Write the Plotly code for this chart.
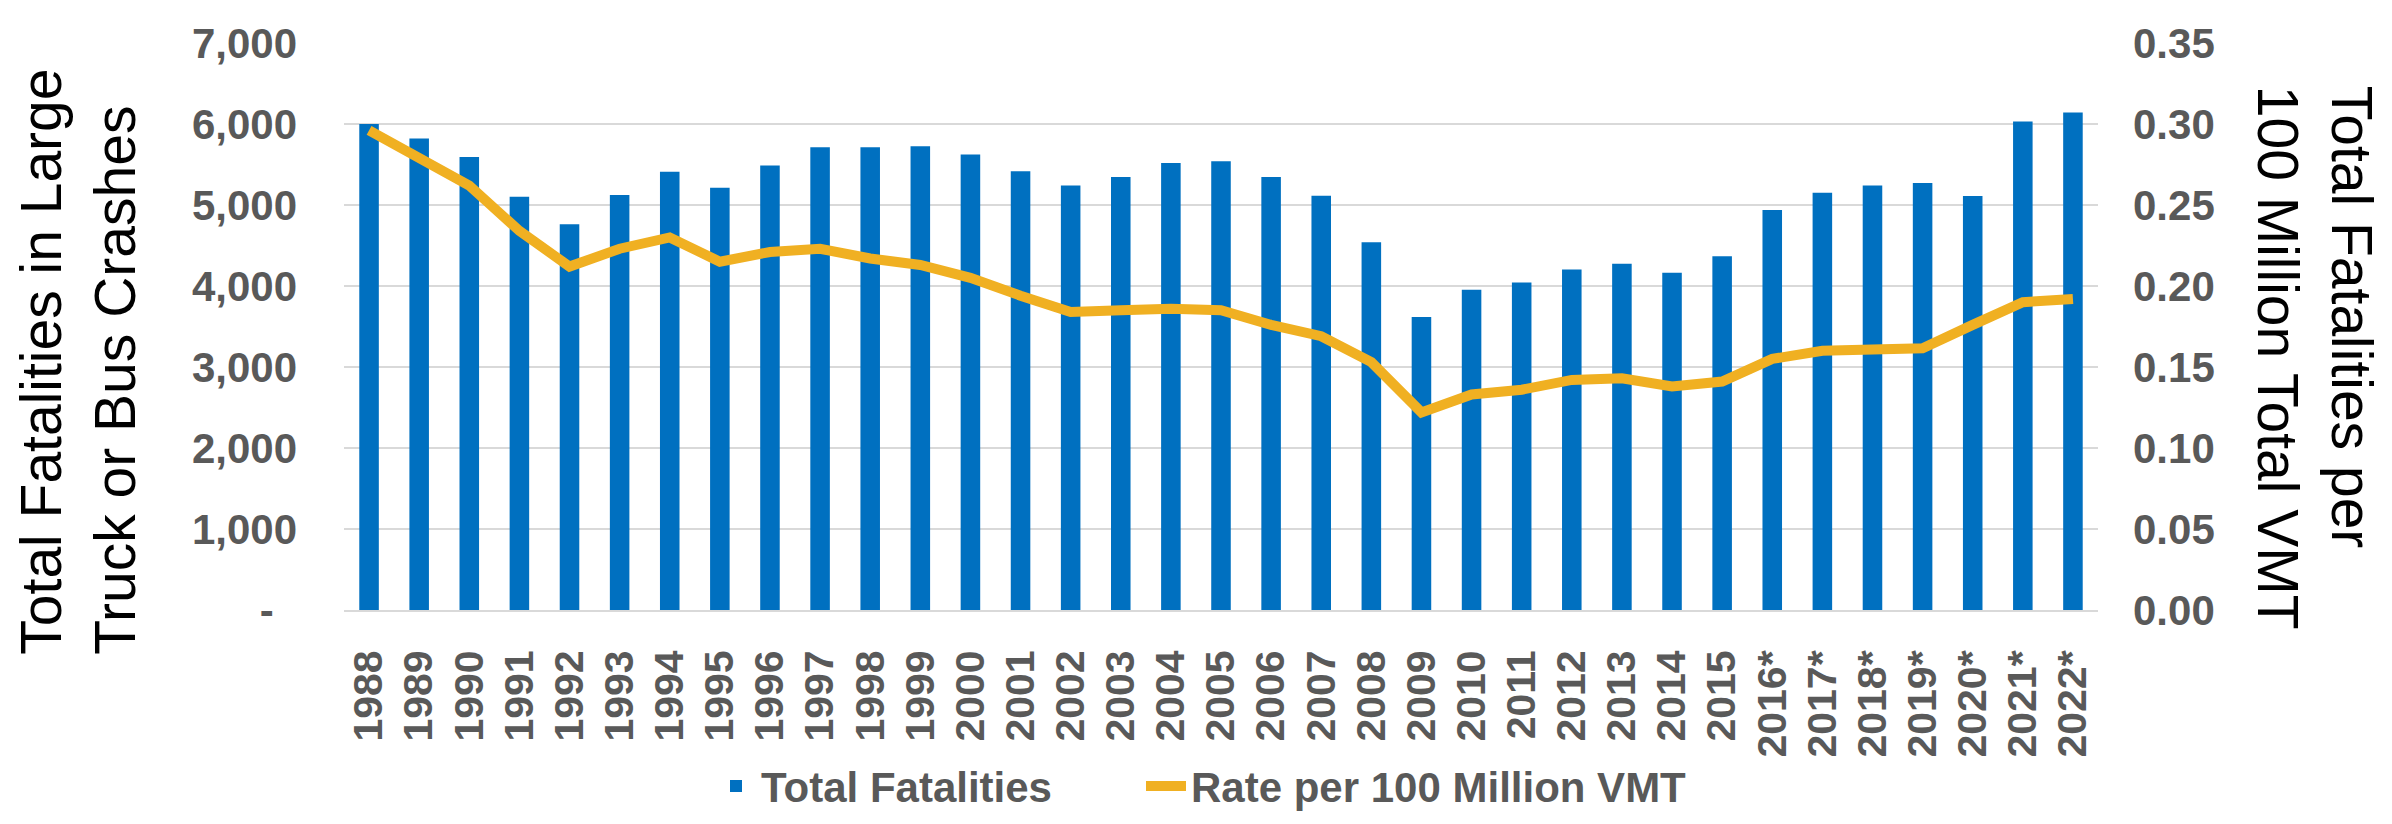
import plotly.graph_objects as go

years = ["1988", "1989", "1990", "1991", "1992", "1993", "1994", "1995", "1996", "1997",
         "1998", "1999", "2000", "2001", "2002", "2003", "2004", "2005", "2006", "2007",
         "2008", "2009", "2010", "2011", "2012", "2013", "2014", "2015", "2016*", "2017*",
         "2018*", "2019*", "2020*", "2021*", "2022*"]

total_fatalities = [6000, 5820, 5594, 5103, 4762, 5123, 5412, 5214, 5487, 5713,
                    5713, 5725, 5622, 5416, 5242, 5345, 5519, 5539, 5345, 5115,
                    4541, 3618, 3954, 4042, 4204, 4275, 4164, 4366, 4937, 5150,
                    5242, 5273, 5111, 6030, 6141]

rate_per_100m_vmt = [0.296, 0.279, 0.262, 0.234, 0.212, 0.223, 0.230, 0.215, 0.221, 0.223,
                     0.217, 0.213, 0.205, 0.194, 0.184, 0.185, 0.186, 0.185, 0.176, 0.169,
                     0.153, 0.122, 0.133, 0.136, 0.142, 0.143, 0.138, 0.141, 0.155, 0.160,
                     0.1615, 0.1615, 0.176, 0.190, 0.192]

left_tickvals = [0, 1000, 2000, 3000, 4000, 5000, 6000, 7000]
left_ticktext = ["-\u00a0\u00a0", "1,000", "2,000", "3,000", "4,000", "5,000", "6,000", "7,000"]
right_tickvals = [0, 0.05, 0.10, 0.15, 0.20, 0.25, 0.30, 0.35]
right_ticktext = ["0.00", "0.05", "0.10", "0.15", "0.20", "0.25", "0.30", "0.35"]

FONT = "Liberation Sans, Arial, sans-serif"
GRAY = "#595959"
BLUE = "#0070C0"
ORANGE = "#F0B022"
GRID = "#D9D9D9"

W, H = 2392, 824
ML, MR, MT, MB = 336, 302, 28, 207
PW = W - ML - MR
PH = H - MT - MB


def px_x(px):
    return (px - ML) / PW


def px_y(py):
    return 1 - (py - MT) / PH


fig = go.Figure()
fig.add_trace(go.Bar(
    x=years, y=total_fatalities, name="Total Fatalities",
    marker=dict(color=BLUE, line=dict(width=0)),
    yaxis="y", legend="legend",
))
fig.add_trace(go.Scatter(
    x=years, y=rate_per_100m_vmt, name="Rate per 100 Million VMT",
    mode="lines", line=dict(color=ORANGE, width=10),
    yaxis="y2", legend="legend2",
))

legend_font = dict(family=FONT, size=42, color=GRAY, weight="bold")

fig.update_layout(
    width=W, height=H,
    margin=dict(l=ML, r=MR, t=MT, b=MB, pad=0),
    paper_bgcolor="white", plot_bgcolor="white",
    bargap=0.61,
    font=dict(family=FONT, color=GRAY),
    xaxis=dict(
        type="category", tickangle=-90,
        tickfont=dict(family=FONT, size=41, color=GRAY, weight="bold"),
        showgrid=False, zeroline=False,
        showline=True, linecolor=GRID, linewidth=2,
        ticks="", ticklabelstandoff=22,
    ),
    yaxis=dict(
        range=[0, 7000], tickvals=left_tickvals, ticktext=left_ticktext,
        tickfont=dict(family=FONT, size=42, color=GRAY, weight="bold"),
        showgrid=True, gridcolor=GRID, gridwidth=2,
        zeroline=False, showline=False, ticks="",
        ticklabelstandoff=46,
    ),
    yaxis2=dict(
        range=[0, 0.35], tickvals=right_tickvals, ticktext=right_ticktext,
        overlaying="y", side="right",
        tickfont=dict(family=FONT, size=42, color=GRAY, weight="bold"),
        showgrid=False, zeroline=False, showline=False, ticks="",
        ticklabelstandoff=34,
    ),
    legend=dict(
        orientation="h", x=px_x(703), xanchor="left", y=px_y(800), yanchor="middle",
        font=legend_font, bgcolor="rgba(0,0,0,0)", itemwidth=40,
    ),
    legend2=dict(
        orientation="h", x=px_x(1133), xanchor="left", y=px_y(800), yanchor="middle",
        font=legend_font, bgcolor="rgba(0,0,0,0)", itemwidth=40,
    ),
    showlegend=True,
)

fig.add_annotation(
    text="Total Fatalities in Large<br>Truck or Bus Crashes",
    xref="paper", yref="paper", x=px_x(70), y=px_y(359),
    xanchor="center", yanchor="middle", align="left",
    textangle=-90, showarrow=False,
    font=dict(family=FONT, size=57, color="black"),
)
fig.add_annotation(
    text="Total Fatalities per<br>100 Million Total VMT",
    xref="paper", yref="paper", x=px_x(2307), y=px_y(355),
    xanchor="center", yanchor="middle", align="left",
    textangle=90, showarrow=False,
    font=dict(family=FONT, size=57, color="black"),
)

fig.write_html("out.html")
